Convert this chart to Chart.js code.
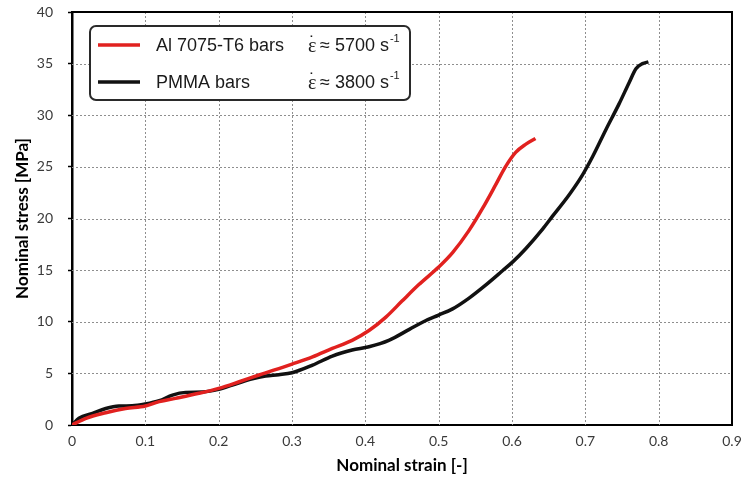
<!DOCTYPE html>
<html>
<head>
<meta charset="utf-8">
<script src="https://cdn.jsdelivr.net/npm/chart.js@4.4.1/dist/chart.umd.min.js"></script>
<style>
  html, body { margin: 0; padding: 0; background: #fff; }
  #wrap { width: 744px; height: 480px; position: relative; }
</style>
</head>
<body>
<div id="wrap"><canvas id="c" width="744" height="480"></canvas></div>
<script>
// ---- Data ----
const alStrain = [0, 0.019, 0.046, 0.073, 0.1, 0.119, 0.141, 0.173, 0.2, 0.228, 0.255, 0.3, 0.328, 0.355, 0.382, 0.405, 0.428, 0.45, 0.473, 0.5, 0.519, 0.541, 0.56, 0.578, 0.591, 0.605, 0.619, 0.632];
const alStress = [0, 0.65, 1.19, 1.6, 1.84, 2.26, 2.58, 3.07, 3.55, 4.19, 4.84, 5.9, 6.6, 7.42, 8.2, 9.15, 10.45, 12.0, 13.6, 15.3, 16.7, 18.8, 21.0, 23.3, 25.0, 26.4, 27.2, 27.75];

const pmmaStrain = [0, 0.0095, 0.028, 0.046, 0.064, 0.082, 0.1, 0.119, 0.137, 0.155, 0.178, 0.2, 0.223, 0.246, 0.264, 0.282, 0.3, 0.328, 0.355, 0.382, 0.405, 0.432, 0.46, 0.482, 0.5, 0.519, 0.541, 0.564, 0.587, 0.601, 0.619, 0.642, 0.655, 0.678, 0.696, 0.71, 0.728, 0.746, 0.76, 0.769, 0.778, 0.786];
const pmmaStress = [0, 0.65, 1.13, 1.6, 1.84, 1.86, 2.03, 2.35, 2.9, 3.16, 3.2, 3.45, 3.97, 4.48, 4.74, 4.87, 5.06, 5.8, 6.68, 7.26, 7.58, 8.2, 9.26, 10.1, 10.65, 11.25, 12.27, 13.55, 14.94, 15.8, 17.1, 19.0, 20.2, 22.3, 24.2, 26.0, 28.6, 31.1, 33.2, 34.5, 35.0, 35.17];

const seriesLabels = ["Al 7075-T6 bars", "PMMA bars"];
const rateLabels = ["5700", "3800"];
const xTicks = [0, 0.1, 0.2, 0.3, 0.4, 0.5, 0.6, 0.7, 0.8, 0.9];
const yTicks = [0, 5, 10, 15, 20, 25, 30, 35, 40];
const xTitle = "Nominal strain [-]";
const yTitle = "Nominal stress [MPa]";

const RED = '#e1211f';
const BLACK = '#111111';

function pts(xs, ys) { return xs.map((x, i) => ({ x: x, y: ys[i] })); }

// Dotted grid, drawn from the scales' own ticks
const gridPlugin = {
  id: 'dotgrid',
  beforeDatasetsDraw(chart) {
    const { ctx, chartArea: a, scales } = chart;
    ctx.save();
    ctx.strokeStyle = '#8e8e8e';
    ctx.lineWidth = 1;
    ctx.setLineDash([2, 2]);
    scales.x.ticks.forEach(t => {
      const x = Math.round(scales.x.getPixelForValue(t.value)) + 0.5;
      if (x <= a.left + 2 || x >= a.right - 2) return;
      ctx.beginPath(); ctx.moveTo(x, a.top); ctx.lineTo(x, a.bottom); ctx.stroke();
    });
    scales.y.ticks.forEach(t => {
      const y = Math.round(scales.y.getPixelForValue(t.value)) + 0.5;
      if (y <= a.top + 2 || y >= a.bottom - 2) return;
      ctx.beginPath(); ctx.moveTo(a.left, y); ctx.lineTo(a.right, y); ctx.stroke();
    });
    ctx.restore();
  }
};

// Frame + legend plugin
const framePlugin = {
  id: 'frame',
  afterDraw(chart) {
    const { ctx, chartArea: a } = chart;
    ctx.save();
    ctx.strokeStyle = '#000';
    ctx.lineWidth = 2;
    ctx.beginPath();
    ctx.moveTo(a.left, a.top);
    ctx.lineTo(a.right, a.top);
    ctx.lineTo(a.right, a.bottom);
    ctx.stroke();

    // Legend box
    const bx = 90, by = 26, bw = 320, bh = 74, r = 6;
    ctx.beginPath();
    ctx.moveTo(bx + r, by);
    ctx.lineTo(bx + bw - r, by);
    ctx.arcTo(bx + bw, by, bx + bw, by + r, r);
    ctx.lineTo(bx + bw, by + bh - r);
    ctx.arcTo(bx + bw, by + bh, bx + bw - r, by + bh, r);
    ctx.lineTo(bx + r, by + bh);
    ctx.arcTo(bx, by + bh, bx, by + bh - r, r);
    ctx.lineTo(bx, by + r);
    ctx.arcTo(bx, by, bx + r, by, r);
    ctx.closePath();
    ctx.fillStyle = '#fff';
    ctx.fill();
    ctx.strokeStyle = '#2a2a2a';
    ctx.lineWidth = 2;
    ctx.stroke();

    const rows = [45, 82];
    const cols = [RED, BLACK];
    rows.forEach((yy, i) => {
      ctx.strokeStyle = cols[i];
      ctx.lineWidth = 3.5;
      ctx.lineCap = 'butt';
      ctx.beginPath();
      ctx.moveTo(98, yy);
      ctx.lineTo(140, yy);
      ctx.stroke();

      ctx.fillStyle = '#1a1a1a';
      ctx.textBaseline = 'middle';
      ctx.textAlign = 'left';
      ctx.font = '18px "Liberation Sans", Arial, sans-serif';
      ctx.fillText(seriesLabels[i], 156, yy + 1);

      // epsilon with dot
      ctx.font = '20px "Liberation Serif", "Times New Roman", serif';
      ctx.fillText('\u03B5', 308, yy + 2);
      const ew = ctx.measureText('\u03B5').width;
      ctx.font = '18px "Liberation Sans", Arial, sans-serif';
      ctx.textAlign = 'center';
      ctx.fillText('\u02D9', 308 + ew / 2, yy - 1);
      ctx.textAlign = 'left';
      const rest = '\u2248 ' + rateLabels[i] + ' s';
      ctx.fillText(rest, 320, yy + 1);
      const rw = ctx.measureText(rest).width;
      ctx.font = '11px "Liberation Sans", Arial, sans-serif';
      ctx.fillText('-1', 320 + rw + 1, yy - 6);
    });
    ctx.restore();
  }
};

new Chart(document.getElementById('c'), {
  type: 'scatter',
  data: {
    datasets: [
      {
        label: seriesLabels[0],
        data: pts(alStrain, alStress),
        showLine: true,
        borderColor: RED,
        backgroundColor: RED,
        borderWidth: 3.5,
        pointRadius: 0,
        cubicInterpolationMode: 'monotone'
      },
      {
        label: seriesLabels[1],
        data: pts(pmmaStrain, pmmaStress),
        showLine: true,
        borderColor: BLACK,
        backgroundColor: BLACK,
        borderWidth: 3.5,
        pointRadius: 0,
        cubicInterpolationMode: 'monotone'
      }
    ]
  },
  options: {
    responsive: false,
    animation: false,
    devicePixelRatio: 1,
    layout: { padding: { left: 0, right: 12, top: 12, bottom: 0 } },
    plugins: { legend: { display: false }, tooltip: { enabled: false } },
    scales: {
      x: {
        type: 'linear',
        min: 0, max: 0.9,
        afterBuildTicks(s) { s.ticks = xTicks.map(v => ({ value: v })); },
        afterFit(s) { s.height = 55; s.paddingLeft = 0; s.paddingRight = 0; },
        ticks: {
          padding: 8,
          color: '#3a3a3a',
          font: { family: 'Lato', size: 14 },
          maxRotation: 0,
          callback: v => (v === 0 ? '0' : String(Math.round(v * 10) / 10))
        },
        grid: {
          color: 'rgba(0,0,0,0)',
          drawTicks: false
        },
        border: { display: true, color: '#000', width: 2 },
        title: {
          display: true,
          text: xTitle,
          color: '#000',
          font: { family: 'Lato', size: 17, weight: 'bold' },
          padding: { top: 0, bottom: 4 }
        }
      },
      y: {
        type: 'linear',
        min: 0, max: 40,
        afterBuildTicks(s) { s.ticks = yTicks.map(v => ({ value: v })); },
        afterFit(s) { s.width = 72; s.paddingTop = 0; s.paddingBottom = 0; },
        ticks: {
          padding: 15,
          color: '#3a3a3a',
          font: { family: 'Lato', size: 14 }
        },
        grid: {
          color: 'rgba(0,0,0,0)',
          drawTicks: true,
          tickLength: 4,
          tickColor: '#000',
          tickWidth: 1.5
        },
        border: { display: true, color: '#000', width: 2.5 },
        title: {
          display: true,
          text: yTitle,
          color: '#000',
          font: { family: 'Lato', size: 17, weight: 'bold' },
          padding: { top: 12, bottom: 0 }
        }
      }
    }
  },
  plugins: [gridPlugin, framePlugin]
});
</script>
</body>
</html>
